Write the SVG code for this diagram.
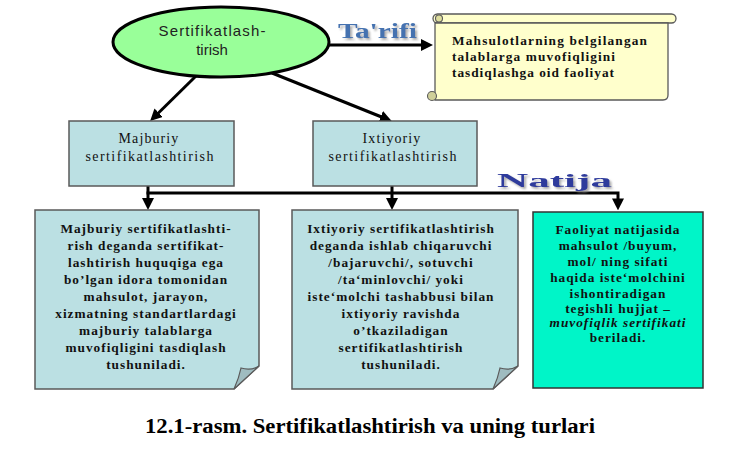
<svg xmlns="http://www.w3.org/2000/svg" width="745" height="451" viewBox="0 0 745 451">
<style>
.box{fill:#bbe0e3;stroke:#5a5a5a;stroke-width:1.5}
.t1{font-family:"Liberation Serif",serif;font-size:14px;fill:#111;text-anchor:middle;letter-spacing:1.1px}
.tb{font-family:"Liberation Serif",serif;font-size:13.3px;font-weight:bold;fill:#111;text-anchor:middle;letter-spacing:1px}
.ts{font-family:"Liberation Serif",serif;font-size:13.3px;font-weight:bold;fill:#111}
.con{fill:none;stroke:#000;stroke-width:3}
.fold{fill:#9fbcc0;stroke:#5a5a5a;stroke-width:1.2}
.big{font-family:"Liberation Serif",serif;font-weight:bold}
</style>
<defs>
<marker id="ah" viewBox="0 0 10 10" refX="3" refY="5" markerWidth="4" markerHeight="4" orient="auto" markerUnits="strokeWidth"><path d="M0,0 L10,5 L0,10 Z" fill="#000"/></marker>
<filter id="sh" x="-10%" y="-20%" width="130%" height="160%"><feDropShadow dx="2" dy="2" stdDeviation="0.8" flood-color="#888" flood-opacity="0.7"/></filter>
</defs>
<rect width="745" height="451" fill="#fff"/>

<g id="connectors">
<line class="con" x1="328" y1="45" x2="424.6" y2="45" marker-end="url(#ah)"/>
<line class="con" x1="196" y1="76" x2="156.1" y2="115.2" marker-end="url(#ah)"/>
<line class="con" x1="272" y1="73" x2="384.1" y2="118" marker-end="url(#ah)"/>
<line class="con" x1="148" y1="186" x2="148" y2="201.6" marker-end="url(#ah)"/>
<line class="con" x1="392" y1="186" x2="392" y2="201.6" marker-end="url(#ah)"/>
<path class="con" d="M146.5,193 H618 V202" marker-end="url(#ah)"/>
</g>

<g id="label-tarifi">
<text class="big" x="338" y="38" font-size="20" fill="#4472b0" filter="url(#sh)" textLength="79" lengthAdjust="spacingAndGlyphs">Ta'rifi</text>
</g>
<g id="label-natija">
<text class="big" x="497" y="187" font-size="18" fill="#2d3a9c" filter="url(#sh)" textLength="115" lengthAdjust="spacingAndGlyphs">Natija</text>
</g>

<g id="node-root">
<ellipse cx="221" cy="42" rx="108" ry="35" fill="#99ff99" stroke="#000" stroke-width="3"/>
<text x="212" y="36" font-family="'Liberation Sans',sans-serif" font-size="15" fill="#222" text-anchor="middle" textLength="107" lengthAdjust="spacing">Sertifikatlash-</text>
<text x="212" y="55" font-family="'Liberation Sans',sans-serif" font-size="15" fill="#222" text-anchor="middle">tirish</text>
</g>

<g id="node-definition">
<rect x="433" y="14" width="243" height="9" rx="4.5" fill="#ffffcc" stroke="#5a5a5a" stroke-width="1.3"/>
<path d="M435,23 V100 H663 Q668,100 668,95 V23 Z" fill="#ffffcc" stroke="#5a5a5a" stroke-width="1.3"/>
<circle cx="439" cy="18.5" r="3.5" fill="#dede9e" stroke="#5a5a5a" stroke-width="1.1"/>
<circle cx="432" cy="96" r="4.5" fill="#cfcf99" stroke="#5a5a5a" stroke-width="1.1"/>
<text class="ts" x="452" y="45" textLength="195" lengthAdjust="spacing">Mahsulotlarning belgilangan</text>
<text class="ts" x="452" y="61" textLength="163" lengthAdjust="spacing">talablarga muvofiqligini</text>
<text class="ts" x="452" y="77" textLength="162" lengthAdjust="spacing">tasdiqlashga oid faoliyat</text>
</g>

<g id="node-majburiy">
<rect class="box" x="69" y="121" width="165" height="65"/>
<text class="t1" x="149" y="143">Majburiy</text>
<text class="t1" x="150" y="161" textLength="129" lengthAdjust="spacing">sertifikatlashtirish</text>
</g>

<g id="node-ixtiyoriy">
<rect class="box" x="313" y="121" width="164" height="65"/>
<text class="t1" x="392" y="143">Ixtiyoriy</text>
<text class="t1" x="393" y="161" textLength="129" lengthAdjust="spacing">sertifikatlashtirish</text>
</g>

<g id="node-majburiy-desc">
<path class="box" d="M35,210 H259 V366 L234,389 H35 Z"/>
<path class="fold" d="M234,389 Q239,378 241,368 Q251,371 259,366 Z"/>
<text class="tb" x="146" y="232.5">Majburiy sertifikatlashti-</text>
<text class="tb" x="146" y="249.6">rish deganda sertifikat-</text>
<text class="tb" x="146" y="266.7">lashtirish huquqiga ega</text>
<text class="tb" x="146" y="283.8">bo’lgan idora tomonidan</text>
<text class="tb" x="146" y="300.9">mahsulot, jarayon,</text>
<text class="tb" x="146" y="318">xizmatning standartlardagi</text>
<text class="tb" x="146" y="335.1">majburiy talablarga</text>
<text class="tb" x="146" y="352.2">muvofiqligini tasdiqlash</text>
<text class="tb" x="146" y="369.3">tushuniladi.</text>
</g>

<g id="node-ixtiyoriy-desc">
<path class="box" d="M292,210 H518 V366 L493,389 H292 Z"/>
<path class="fold" d="M493,389 Q498,378 500,368 Q510,371 518,366 Z"/>
<text class="tb" x="401" y="232.5">Ixtiyoriy sertifikatlashtirish</text>
<text class="tb" x="401" y="249.6">deganda ishlab chiqaruvchi</text>
<text class="tb" x="401" y="266.7">/bajaruvchi/, sotuvchi</text>
<text class="tb" x="401" y="283.8">/ta‘minlovchi/ yoki</text>
<text class="tb" x="401" y="300.9">iste‘molchi tashabbusi bilan</text>
<text class="tb" x="401" y="318">ixtiyoriy ravishda</text>
<text class="tb" x="401" y="335.1">o’tkaziladigan</text>
<text class="tb" x="401" y="352.2">sertifikatlashtirish</text>
<text class="tb" x="401" y="369.3">tushuniladi.</text>
</g>

<g id="node-natija-desc">
<rect x="533" y="212" width="170" height="176" fill="#00f5c8" stroke="#333" stroke-width="1.5"/>
<text class="tb" x="618" y="234">Faoliyat natijasida</text>
<text class="tb" x="618" y="250">mahsulot /buyum,</text>
<text class="tb" x="618" y="266">mol/ ning sifati</text>
<text class="tb" x="618" y="282">haqida iste‘molchini</text>
<text class="tb" x="618" y="297.5">ishontiradigan</text>
<text class="tb" x="618" y="313">tegishli hujjat –</text>
<text class="tb" x="618" y="327" font-style="italic" letter-spacing="0.3">muvofiqlik sertifikati</text>
<text class="tb" x="618" y="342">beriladi.</text>
</g>

<g id="caption">
<text class="big" x="370" y="433" font-size="20" fill="#000" text-anchor="middle" textLength="450" lengthAdjust="spacingAndGlyphs">12.1-rasm. Sertifikatlashtirish va uning turlari</text>
</g>
</svg>
